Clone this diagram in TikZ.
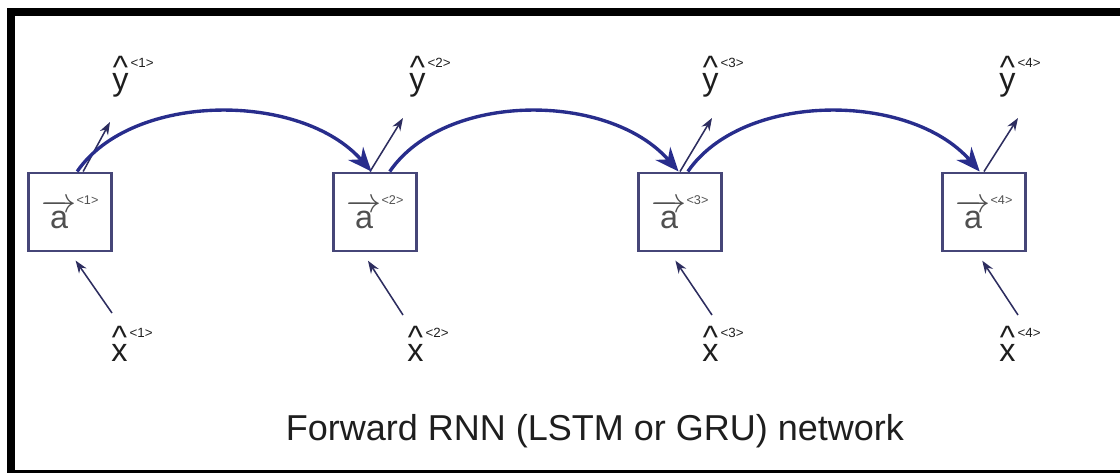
\documentclass[tikz,border=0pt]{standalone}
\usepackage{fontspec}
\setmainfont{Liberation Sans}
\usetikzlibrary{arrows.meta}
\definecolor{boxline}{RGB}{70,70,120}
\definecolor{arcblue}{RGB}{40,45,140}
\definecolor{thinblue}{RGB}{45,45,95}
\definecolor{labelgray}{RGB}{80,80,80}
\definecolor{labeltext}{RGB}{30,30,30}
% hatted label with a small index
\newcommand{\hatlbl}[2]{{\ooalign{#1\cr\hidewidth\raisebox{9pt}{\textasciicircum}\hidewidth\cr}}\raisebox{17pt}{\fontsize{9.5}{9.5}\selectfont\,<#2>}}
% forward activation label
\newcommand{\veclbl}[1]{$\overrightarrow{\mbox{a}}$\raisebox{17pt}{\fontsize{9}{9}\selectfont <#1>}}
\begin{document}
\begin{tikzpicture}[x=0.025cm,y=-0.025cm,
  cell/.style={draw=boxline,line width=2.1pt,rectangle,minimum width=2.08cm,minimum height=1.95cm,inner sep=0pt,text=labelgray,font=\fontsize{23}{23}\selectfont},
  lbl/.style={inner sep=0pt,text=labeltext,font=\fontsize{23}{23}\selectfont},
  recur/.style={draw=arcblue,line width=2.4pt,-{Stealth[length=17pt,width=14pt]}},
  feed/.style={draw=thinblue,line width=1.1pt,-{Stealth[length=9pt,width=6.5pt]}}]
\useasboundingbox (0,0) rectangle (1120,473);
% frame
\fill[black] (7,8) rectangle (15,473);
\fill[black] (7,8) rectangle (1120,16);
\fill[black] (7,470) rectangle (1120,473);
% cells
\node[cell] (a1) at (70,212) {\veclbl{1}};
\node[cell] (a2) at (375,212) {\veclbl{2}};
\node[cell] (a3) at (680,212) {\veclbl{3}};
\node[cell] (a4) at (984,212) {\veclbl{4}};
% outputs
\node[lbl,anchor=base west] (y1) at (112,91) {\hatlbl{y}{1}};
\node[lbl,anchor=base west] (y2) at (409,91) {\hatlbl{y}{2}};
\node[lbl,anchor=base west] (y3) at (702,91) {\hatlbl{y}{3}};
\node[lbl,anchor=base west] (y4) at (999,91) {\hatlbl{y}{4}};
% inputs
\node[lbl,anchor=base west] (x1) at (111,361) {\hatlbl{x}{1}};
\node[lbl,anchor=base west] (x2) at (407,361) {\hatlbl{x}{2}};
\node[lbl,anchor=base west] (x3) at (702,361) {\hatlbl{x}{3}};
\node[lbl,anchor=base west] (x4) at (999,361) {\hatlbl{x}{4}};
\coordinate (o1) at (110,122);
\coordinate (o2) at (403,118);
\coordinate (o3) at (712,118);
\coordinate (o4) at (1018,118);
\coordinate (i1) at (112,313);
\coordinate (i2) at (403,315);
\coordinate (i3) at (712,315);
\coordinate (i4) at (1018,315);
\draw[feed] (a1.72) -- (o1);
\draw[feed] (a2.97) -- (o2);
\draw[feed] (a3.90) -- (o3);
\draw[feed] (a4.90) -- (o4);
\draw[feed,shorten >=7pt] (i1) -- (a1.south);
\draw[feed,shorten >=7pt] (i2) -- (a2.253);
\draw[feed,shorten >=7pt] (i3) -- (a3.256);
\draw[feed,shorten >=7pt] (i4) -- (a4.260);
% recurrence
\draw[recur] (a1.80) .. controls +(55,-80) and +(-70,-80) .. (a2.95);
\draw[recur] (a2.70) .. controls +(55,-80) and +(-70,-80) .. (a3.92);
\draw[recur] (a3.79) .. controls +(55,-80) and +(-70,-80) .. (a4.96);
\node[anchor=base,text=labeltext,font=\fontsize{25.6}{25.6}\selectfont] (cap) at (595,440) {Forward RNN (LSTM or GRU) network};
\end{tikzpicture}
\end{document}
